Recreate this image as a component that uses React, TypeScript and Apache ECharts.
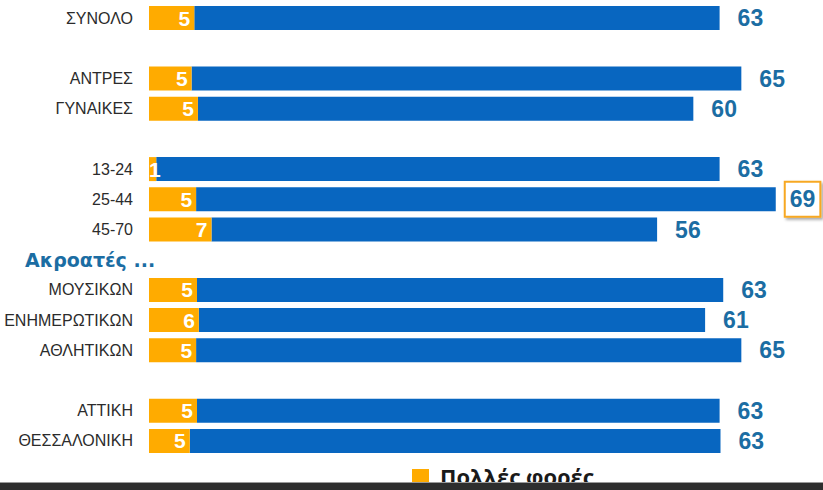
import React, { useEffect, useRef } from "react";
import * as echarts from "echarts";

const categories = [
  "ΣΥΝΟΛΟ", " ", "ΑΝΤΡΕΣ", "ΓΥΝΑΙΚΕΣ", "  ", "13-24", "25-44", "45-70",
  "Ακροατές ...", "ΜΟΥΣΙΚΩΝ", "ΕΝΗΜΕΡΩΤΙΚΩΝ", "ΑΘΛΗΤΙΚΩΝ", "   ", "ΑΤΤΙΚΗ", "ΘΕΣΣΑΛΟΝΙΚΗ",
];
const headers = ["Ακροατές ..."];
// "many times" share (orange), total share (end of blue bar)
const manyTimes: (number | null)[] = [5.0, null, 4.7, 5.4, null, 0.8, 5.2, 6.9, null, 5.3, 5.5, 5.2, null, 5.3, 4.5];
const totals: (number | null)[] = [63.0, null, 65.4, 60.1, null, 63.0, 69.2, 56.1, null, 63.4, 61.4, 65.4, null, 63.0, 63.1];
const highlighted = ["25-44"];
const legendName = "Πολλές φορές";
const restName = "Σύνολο";

export default function App() {
  const ref = useRef<HTMLDivElement>(null);
  useEffect(() => {
    if (!ref.current) return;
    const chart = echarts.init(ref.current, null, { renderer: "svg" });
    const many = manyTimes.map((m) => {
      if (m == null) return null;
      if (m < 2) return { value: m, label: { position: "insideLeft", distance: 0 } };
      return m;
    });
    const rest = totals.map((t, i) => {
      if (t == null) return null;
      const v = +(t - (manyTimes[i] ?? 0)).toFixed(2);
      if (highlighted.includes(categories[i])) {
        return {
          value: v,
          label: {
            distance: 10,
            borderColor: "#F7A823",
            borderWidth: 2,
            backgroundColor: "#ffffff",
            padding: [6, 4, 4, 4],
            shadowColor: "rgba(0,0,0,0.35)",
            shadowBlur: 3,
            shadowOffsetX: 2,
            shadowOffsetY: 2,
          },
        };
      }
      return v;
    });
    chart.setOption({
      animation: false,
      grid: { left: 149, right: 40, top: 3, bottom: 34 },
      legend: {
        data: [legendName],
        left: 412,
        top: 465,
        padding: 0,
        itemWidth: 17,
        itemHeight: 14,
        icon: "rect",
        textStyle: {
          fontSize: 22,
          lineHeight: 22,
          fontWeight: "bold",
          color: "#1a1a1a",
          fontFamily: "Open Sans",
          padding: [0, 0, 0, 6],
        },
      },
      xAxis: {
        type: "value",
        min: 0,
        max: 70,
        show: false,
      },
      yAxis: [
        {
          type: "category",
          data: categories,
          inverse: true,
          axisLine: { show: false },
          axisTick: { show: false },
          axisLabel: {
            margin: 16,
            fontSize: 16,
            color: "#2b2b2b",
            fontFamily: "Liberation Sans",
            formatter: (v: string) => (headers.includes(v) ? "" : v),
          },
        },
        {
          type: "category",
          data: categories,
          inverse: true,
          position: "left",
          offset: 124,
          axisLine: { show: false },
          axisTick: { show: false },
          axisLabel: {
            margin: 0,
            align: "left",
            fontSize: 19,
            fontWeight: "bold",
            color: "#1B6DA3",
            fontFamily: "DejaVu Sans",
            padding: [0, 0, 8, 0],
            formatter: (v: string) => (headers.includes(v) ? v : ""),
          },
        },
      ],
      series: [
        {
          name: legendName,
          type: "bar",
          stack: "s",
          barWidth: 24,
          z: 3,
          data: many,
          itemStyle: { color: "#FFAB00" },
          label: {
            show: true,
            position: "insideRight",
            distance: 4,
            color: "#ffffff",
            fontSize: 21,
            fontWeight: "bold",
            fontFamily: "Liberation Sans",
            formatter: (p: any) => String(Math.round(p.value)),
          },
        },
        {
          name: restName,
          type: "bar",
          stack: "s",
          barWidth: 24,
          data: rest,
          itemStyle: { color: "#0866C0" },
          label: {
            show: true,
            position: "right",
            distance: 18,
            color: "#1B6DA3",
            fontSize: 23,
            fontWeight: "bold",
            fontFamily: "Liberation Sans",
            formatter: (p: any) => String(Math.floor(totals[p.dataIndex] as number)),
          },
        },
      ],
      graphic: [
        { type: "rect", left: 0, top: 482, shape: { width: 823, height: 1 }, style: { fill: "#9a9a9a" }, z: 100 },
        { type: "rect", left: 0, top: 483, shape: { width: 823, height: 7 }, style: { fill: "#2e2e2e" }, z: 100 },
      ],
    });
    return () => chart.dispose();
  }, []);
  return (
    <div
      ref={ref}
      style={{ position: "fixed", left: 0, top: 0, width: 823, height: 490, background: "#fff" }}
    />
  );
}
